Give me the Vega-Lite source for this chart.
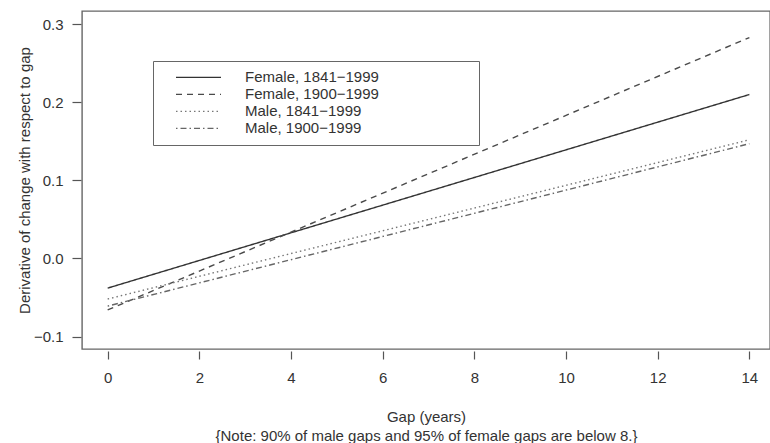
{
  "$schema": "https://vega.github.io/schema/vega-lite/v6.json",
  "width": 688,
  "height": 338,
  "autosize": "none",
  "padding": {"left": 82, "top": 11, "right": 0, "bottom": 94},
  "background": "white",
  "config": {
    "font": "Liberation Sans",
    "view": {"stroke": "#666", "strokeWidth": 1.4},
    "axis": {
      "grid": false,
      "domain": false,
      "tickColor": "#555",
      "tickWidth": 1.2,
      "labelColor": "#333",
      "titleColor": "#333",
      "labelFont": "Liberation Sans",
      "titleFont": "Liberation Sans",
      "labelFontSize": 15,
      "titleFontSize": 15,
      "titleFontWeight": "normal"
    },
    "legend": {
      "orient": "none",
      "legendX": 71,
      "legendY": 50,
      "strokeColor": "#666",
      "padding": 8,
      "symbolType": "stroke",
      "symbolSize": 2025,
      "symbolStrokeWidth": 1.3,
      "symbolOffset": 14,
      "labelOffset": 23,
      "labelFontSize": 15,
      "labelColor": "#333",
      "labelLimit": 400,
      "clipHeight": 16.7,
      "rowPadding": 0
    }
  },
  "data": {
    "values": [
      {"series": "Female, 1841−1999", "gap": 0, "deriv": -0.038},
      {"series": "Female, 1841−1999", "gap": 14, "deriv": 0.21},
      {"series": "Female, 1900−1999", "gap": 0, "deriv": -0.066},
      {"series": "Female, 1900−1999", "gap": 14, "deriv": 0.283},
      {"series": "Male, 1841−1999", "gap": 0, "deriv": -0.052},
      {"series": "Male, 1841−1999", "gap": 14, "deriv": 0.152},
      {"series": "Male, 1900−1999", "gap": 0, "deriv": -0.061},
      {"series": "Male, 1900−1999", "gap": 14, "deriv": 0.147}
    ]
  },
  "mark": {"type": "line", "strokeWidth": 1.4, "clip": true},
  "encoding": {
    "x": {
      "field": "gap",
      "type": "quantitative",
      "scale": {"domain": [-0.56, 14.45], "nice": false, "zero": false},
      "axis": {
        "values": [0, 2, 4, 6, 8, 10, 12, 14],
        "offset": 2,
        "tickSize": 8,
        "labelPadding": 11,
        "titlePadding": 24,
        "titleLineHeight": 19,
        "title": ["Gap (years)", "{Note: 90% of male gaps and 95% of female gaps are below 8.}"]
      }
    },
    "y": {
      "field": "deriv",
      "type": "quantitative",
      "scale": {"domain": [-0.116, 0.317], "nice": false, "zero": false},
      "axis": {
        "values": [-0.1, 0, 0.1, 0.2, 0.3],
        "format": ".1f",
        "offset": 1,
        "tickSize": 9,
        "labelPadding": 9,
        "titlePadding": 1,
        "title": "Derivative of change with respect to gap"
      }
    },
    "color": {
      "field": "series",
      "type": "nominal",
      "scale": {"range": ["#333333", "#4a4a4a", "#777777", "#666666"]},
      "legend": {
        "title": null,
        "labelExpr": "datum.label + '\u00a0\u00a0\u00a0\u00a0\u00a0\u00a0\u00a0\u00a0\u00a0\u00a0\u00a0\u00a0\u00a0\u00a0\u00a0\u00a0\u00a0\u00a0\u00a0\u00a0\u00a0\u00a0\u200b'"
      }
    },
    "strokeDash": {
      "field": "series",
      "type": "nominal",
      "scale": {"range": [[1, 0], [6, 5], [1.5, 3], [1.5, 3, 6, 3]]},
      "legend": {
        "title": null,
        "labelExpr": "datum.label + '\u00a0\u00a0\u00a0\u00a0\u00a0\u00a0\u00a0\u00a0\u00a0\u00a0\u00a0\u00a0\u00a0\u00a0\u00a0\u00a0\u00a0\u00a0\u00a0\u00a0\u00a0\u00a0\u200b'"
      }
    }
  }
}
